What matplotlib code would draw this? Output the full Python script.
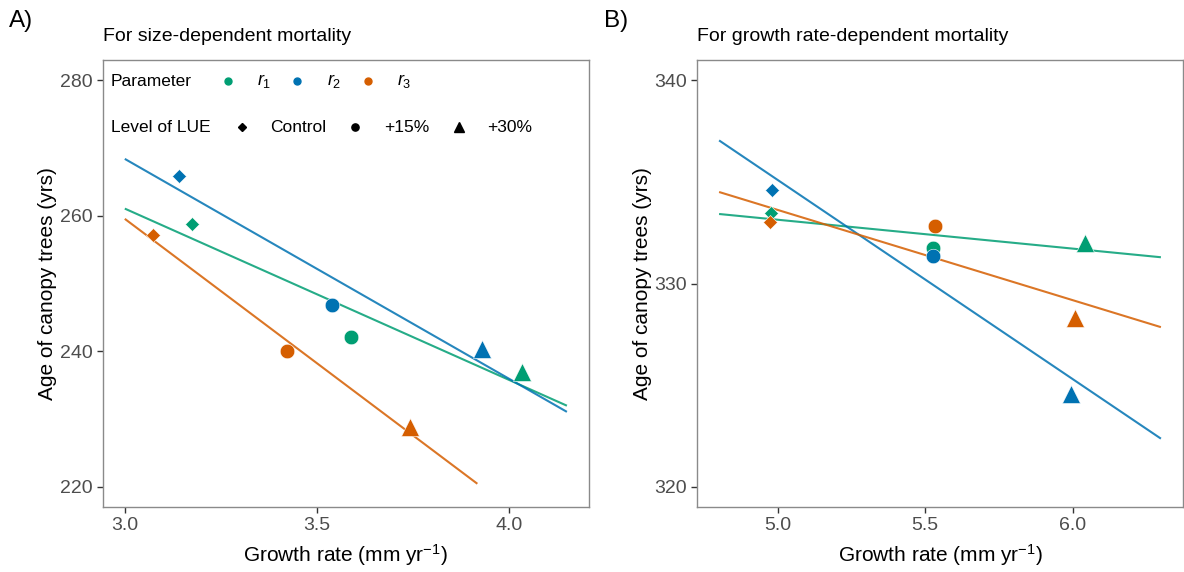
import numpy as np
import matplotlib
matplotlib.use("Agg")
import matplotlib.pyplot as plt

plt.rcParams['font.family'] = ['Liberation Sans', 'DejaVu Sans']
plt.rcParams['mathtext.fontset'] = 'custom'
plt.rcParams['mathtext.rm'] = 'Liberation Sans'
plt.rcParams['mathtext.it'] = 'Liberation Sans:italic'

# ---------------- data ----------------
param_labels = [r'$r_1$', r'$r_2$', r'$r_3$']
param_colors = ['#009E73', '#0072B2', '#D55E00']
levels = ['Control', '+15%', '+30%']
level_markers = ['D', 'o', '^']

# Panel A (rows: r1, r2, r3; columns: Control, +15%, +30%)
growth_A = [[3.174, 3.588, 4.034],
            [3.140, 3.539, 3.930],
            [3.073, 3.422, 3.741]]
age_A = [[258.8, 242.1, 236.9],
         [265.9, 246.8, 240.3],
         [257.2, 240.0, 228.8]]
xlim_A = [3.0, 4.15]
ylim_A = [220, 280]
xticks_A = [3.0, 3.5, 4.0]
yticks_A = [220, 240, 260, 280]
title_A = 'For size-dependent mortality'

# Panel B
growth_B = [[4.975, 5.526, 6.041],
            [4.981, 5.526, 5.996],
            [4.972, 5.532, 6.009]]
age_B = [[333.49, 331.75, 332.00],
         [334.62, 331.36, 324.59],
         [333.03, 332.82, 328.31]]
xlim_B = [4.8, 6.3]
ylim_B = [320, 340]
xticks_B = [5.0, 5.5, 6.0]
yticks_B = [320, 330, 340]
title_B = 'For growth rate-dependent mortality'

# ---------------- figure ----------------
W, H = 1184, 572
fig = plt.figure(figsize=(W / 100, H / 100), dpi=100)

def fx(px):
    return px / W

def fy(py):
    return 1 - py / H

axA = fig.add_axes([fx(102.7), fy(507.3), fx(589 - 102.7), (507.3 - 60) / H])
axB = fig.add_axes([fx(697), fy(507.3), fx(1183 - 697), (507.3 - 60) / H])

marker_sizes = {'D': 7.2, 'o': 10.5, '^': 13}
tick_color = '#4D4D4D'
frame_color = '#8A8A8A'


def draw_panel(ax, gx, ay, xlim, ylim, xticks, yticks, title, xfmt):
    for i, col in enumerate(param_colors):
        x = np.array(gx[i])
        y = np.array(ay[i])
        slope, icpt = np.polyfit(x, y, 1)
        xs = np.linspace(xlim[0], xlim[1], 80)
        ys = slope * xs + icpt
        ok = (ys >= ylim[0]) & (ys <= ylim[1])
        ax.plot(xs[ok], ys[ok], color=col, lw=1.5, alpha=0.85, zorder=2,
                solid_capstyle='butt')
    for i, col in enumerate(param_colors):
        for j, m in enumerate(level_markers):
            ax.plot(gx[i][j], ay[i][j], marker=m, ms=marker_sizes[m],
                    color=col, mec='white', mew=0.4, ls='none', zorder=3)
    dx = 0.05 * (xlim[1] - xlim[0])
    dy = 0.05 * (ylim[1] - ylim[0])
    ax.set_xlim(xlim[0] - dx, xlim[1] + dx)
    ax.set_ylim(ylim[0] - dy, ylim[1] + dy)
    ax.set_xticks(xticks)
    ax.set_xticklabels([xfmt.format(v) for v in xticks])
    ax.set_yticks(yticks)
    ax.tick_params(axis='both', colors='#333333', labelcolor=tick_color,
                   labelsize=14, length=4, width=1.0, pad=3)
    for s in ax.spines.values():
        s.set_color(frame_color)
        s.set_linewidth(1.0)
    ax.set_xlabel(r'Growth rate (mm yr$^{-1}$)', fontsize=15, labelpad=6)
    ax.set_ylabel('Age of canopy trees (yrs)', fontsize=15, labelpad=2)
    ax.set_title(title, loc='left', fontsize=14, pad=14)


draw_panel(axA, growth_A, age_A, xlim_A, ylim_A, xticks_A, yticks_A, title_A, '{:.1f}')
draw_panel(axB, growth_B, age_B, xlim_B, ylim_B, xticks_B, yticks_B, title_B, '{:.1f}')

# ---------------- legend inside panel A ----------------
t = axA.transAxes
row1, row2 = 0.953, 0.850
axA.text(0.017, row1, 'Parameter', transform=t, fontsize=12.5, va='center', ha='left')
p_dot_x = [0.258, 0.400, 0.546]
p_lab_x = [0.318, 0.462, 0.606]
for col, lab, xd, xl in zip(param_colors, param_labels, p_dot_x, p_lab_x):
    axA.plot(xd, row1, 'o', ms=5, color=col, transform=t, clip_on=False)
    axA.text(xl, row1, lab, transform=t, fontsize=13, va='center', ha='left')
axA.text(0.017, row2, 'Level of LUE', transform=t, fontsize=12.5, va='center', ha='left')
l_mk_x = [0.286, 0.519, 0.733]
l_lab_x = [0.344, 0.579, 0.790]
l_ms = {'D': 3.8, 'o': 5.2, '^': 6.5}
for m, lab, xm, xl in zip(level_markers, levels, l_mk_x, l_lab_x):
    axA.plot(xm, row2, m, ms=l_ms[m], color='black', transform=t, clip_on=False)
    axA.text(xl, row2, lab, transform=t, fontsize=12.5, va='center', ha='left')

# panel tags
fig.text(fx(9), fy(21), 'A)', fontsize=17.5, va='center', ha='left')
fig.text(fx(604), fy(21), 'B)', fontsize=17.5, va='center', ha='left')

fig.savefig('out.png', dpi=100)
